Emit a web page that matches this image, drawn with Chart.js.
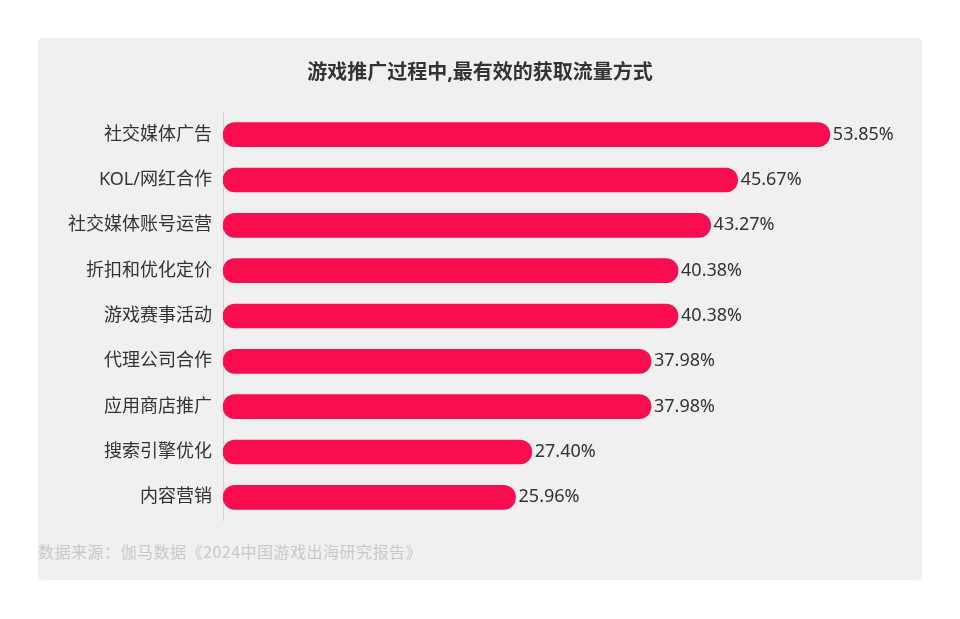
<!DOCTYPE html>
<html>
<head>
<meta charset="utf-8">
<script src="https://cdn.jsdelivr.net/npm/chart.js@4.4.0/dist/chart.umd.min.js"></script>
<style>
  body { margin: 0; background: #fff; width: 960px; height: 619px; overflow: hidden; }
  .panel {
    position: absolute; left: 38px; top: 38px; width: 884px; height: 542px;
    background: #f0f0f0; border-radius: 4px;
  }
  .source {
    position: absolute; left: 38px; top: 539px;
    font-family: 'Noto Sans CJK SC', sans-serif; font-size: 16px;
    letter-spacing: 0.5px; color: #c9c9c9;
  }
  #chart { position: absolute; left: 0; top: 0; }
</style>
</head>
<body>
<div class="panel"></div>
<div class="source">数据来源：伽马数据《2024中国游戏出海研究报告》</div>
<canvas id="chart" width="960" height="619"></canvas>
<script>
const categories = ['社交媒体广告', 'KOL/网红合作', '社交媒体账号运营', '折扣和优化定价', '游戏赛事活动', '代理公司合作', '应用商店推广', '搜索引擎优化', '内容营销'];
const shares = [53.85, 45.67, 43.27, 40.38, 40.38, 37.98, 37.98, 27.40, 25.96];
const chartTitle = '游戏推广过程中,最有效的获取流量方式';

const FONT = "'Noto Sans', 'Noto Sans CJK SC', sans-serif";

// value labels at the end of each bar
const valueLabels = {
    id: 'valueLabels',
    afterDatasetsDraw(chart) {
        const ctx = chart.ctx;
        const meta = chart.getDatasetMeta(0);
        ctx.save();
        ctx.font = '18px ' + FONT;
        ctx.fillStyle = '#333';
        ctx.textAlign = 'left';
        ctx.textBaseline = 'middle';
        meta.data.forEach((bar, i) => {
            ctx.fillText(shares[i].toFixed(2) + '%', bar.x + 3, bar.y);
        });
        ctx.restore();
    }
};

new Chart(document.getElementById('chart'), {
    type: 'bar',
    data: {
        labels: categories,
        datasets: [{
            data: shares,
            backgroundColor: '#f90d4f',
            barThickness: 24,
            borderRadius: 12,
            borderSkipped: false,
        }],
    },
    options: {
        indexAxis: 'y',
        responsive: false,
        animation: false,
        layout: { padding: { left: 0, right: 0, top: 0, bottom: 99 } },
        plugins: {
            legend: { display: false },
            tooltip: { enabled: false },
            title: {
                display: true,
                text: chartTitle,
                color: '#333',
                font: { family: FONT, size: 20, weight: 'bold' },
                padding: { top: 61, bottom: 27 },
            },
        },
        scales: {
            x: { display: false, min: 0, max: 65.4 },
            y: {
                grid: { display: false, drawTicks: false },
                border: { display: true, color: '#d2d2d2', width: 1 },
                ticks: { color: '#333', font: { family: FONT, size: 18 }, padding: 11 },
                afterFit(scale) { scale.width = 223; },
            },
        },
    },
    plugins: [valueLabels],
});
</script>
</body>
</html>
